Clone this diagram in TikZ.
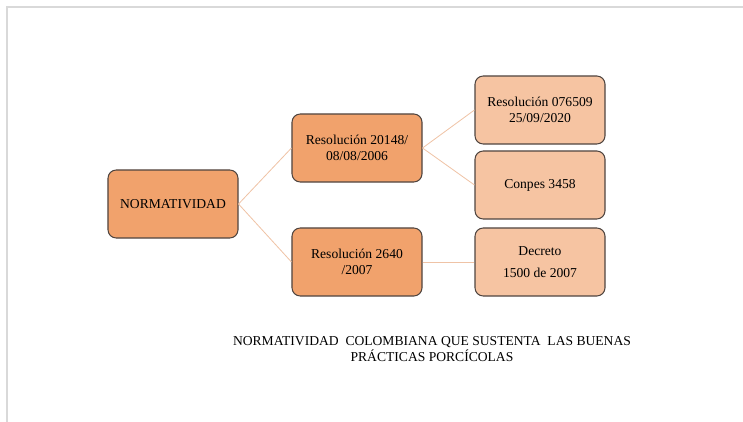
\documentclass[tikz,border=0pt]{standalone}
\usepackage{fontspec}
\setmainfont{Liberation Serif}
\usetikzlibrary{positioning}

\definecolor{framegray}{HTML}{D9D9D9}
\definecolor{boxdark}{HTML}{F1A26C}
\definecolor{boxlight}{HTML}{F6C4A2}
\definecolor{boxline}{HTML}{4F4540}
\definecolor{linkpeach}{HTML}{EFC3A6}

\begin{document}
\begin{tikzpicture} [
    x=0.03cm, y=-0.03cm,
    normbox/.style = {draw=boxline, line width=0.9pt, rounded corners=7pt,
        minimum width=3.9cm, minimum height=2.04cm, align=center,
        inner xsep=2pt, font=\fontsize{11.6}{13.5}\selectfont},
    level one/.style = {normbox, fill=boxdark},
    level two/.style = {normbox, fill=boxlight},
    link/.style = {draw=linkpeach, line width=0.7pt}]
    % \draw [help lines] (0,0) grid (743,422);
    \useasboundingbox (0,0) rectangle (743,422);
    \draw [framegray, line width=1.2pt] (7,422) -- (7,7) -- (743,7);

    \node (norm) [level one] at (173,204) {NORMATIVIDAD};
    \node (res1) [level one] at (357,148) {Resolución 20148/\\08/08/2006};
    \node (res2) [level one] at (357,262) {Resolución 2640\\/2007};
    \node (res3) [level two] at (540,110) {Resolución 076509\\25/09/2020};
    \node (conp) [level two] at (540,185) {Conpes 3458};
    \node (decr) [level two] at (540,262)
        {Decreto\\[5pt]1500 de 2007};

    \path [link]
        (norm.east) edge (res1.west)
        (norm.east) edge (res2.west)
        (res1.east) edge (res3.west)
        (res1.east) edge (conp.west)
        (res2.east) edge (decr.west);

    \node (caption) [align=center, font=\fontsize{11.6}{14.2}\selectfont]
        at (432,349) {NORMATIVIDAD\ \ COLOMBIANA QUE SUSTENTA\ \ LAS BUENAS\\PRÁCTICAS PORCÍCOLAS};
\end{tikzpicture}
\end{document}
